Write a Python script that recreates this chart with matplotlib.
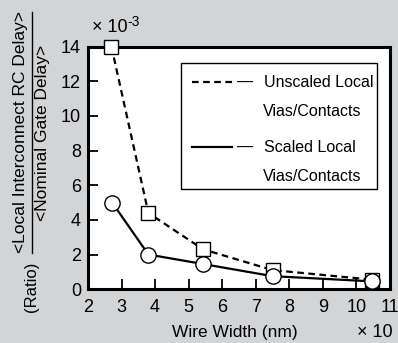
#! /usr/bin/env python3
"""Local interconnect RC delay ratio vs wire width."""
import matplotlib
matplotlib.use("Agg")
import matplotlib.pyplot as plt
from matplotlib.lines import Line2D
from matplotlib.patches import Rectangle

width_unscaled = [2.7, 3.8, 5.43, 7.5, 10.45]
ratio_unscaled = [14.0, 4.4, 2.3, 1.1, 0.55]
width_scaled = [2.72, 3.8, 5.43, 7.5, 10.45]
ratio_scaled = [5.0, 2.0, 1.45, 0.75, 0.45]
x_ticks = [2, 3, 4, 5, 6, 7, 8, 9, 10, 11]
y_ticks = [0, 2, 4, 6, 8, 10, 12, 14]
legend_lines = [("Unscaled Local", "Vias/Contacts"), ("Scaled Local", "Vias/Contacts")]

plt.rcParams["font.family"] = ["Liberation Sans", "DejaVu Sans"]
plt.rcParams["font.size"] = 13

bg = "#d3d4d6"
fig = plt.figure(figsize=(3.98, 3.43), dpi=100, facecolor=bg)
ax = fig.add_axes([0.221, 0.157, 0.759, 0.707])
ax.set_facecolor("white")

dash = (0, (3, 2))
ax.plot(width_unscaled, ratio_unscaled, ls=dash, lw=1.6, color="black",
        marker="s", ms=10.5, mfc="white", mec="black", mew=1.0,
        clip_on=False, zorder=4)
ax.plot(width_scaled, ratio_scaled, ls="-", lw=1.6, color="black",
        marker="o", ms=11, mfc="white", mec="black", mew=1.0,
        clip_on=False, zorder=5)

ax.set_xlim(2, 11)
ax.set_ylim(0, 14)
ax.set_xticks(x_ticks)
ax.set_yticks(y_ticks)
ax.tick_params(direction="in", length=7, width=1.3, labelsize=13)
ax.tick_params(axis="x", pad=7)
ax.tick_params(axis="y", pad=5)
for s in ax.spines.values():
    s.set_linewidth(2.2)
    s.set_zorder(3)

# legend box drawn by hand so the sample sits on the first text line
ax.add_patch(Rectangle((0.308, 0.412), 0.649, 0.52, transform=ax.transAxes,
                       fc="white", ec="black", lw=1.0, zorder=6))
rows_y = [(0.854, 0.734), (0.586, 0.466)]
styles = [dash, "-"]
for (top, bottom), (l1, l2), st in zip(rows_y, legend_lines, styles):
    ax.add_line(Line2D([0.344, 0.477], [top, top], transform=ax.transAxes,
                       ls=st, lw=1.6, color="black", zorder=7))
    ax.text(0.493, top, "\u2014", transform=ax.transAxes, fontsize=11.5,
            ha="left", va="center", zorder=7)
    ax.text(0.584, top, l1, transform=ax.transAxes, fontsize=11.5,
            ha="left", va="center", zorder=7)
    ax.text(0.578, bottom, l2, transform=ax.transAxes, fontsize=11.5,
            ha="left", va="center", zorder=7)

fig.text(0.231, 0.907, "\u00d7 10", fontsize=13, ha="left", va="baseline")
fig.text(0.319, 0.925, "-3", fontsize=10, ha="left", va="baseline")
fig.text(0.59, 0.018, "Wire Width (nm)", fontsize=12.5, ha="center", va="baseline")
fig.text(0.987, 0.018, "\u00d7 10", fontsize=13, ha="right", va="baseline")

fig.text(0.052, 0.615, "<Local Interconnect RC Delay>", fontsize=12.5, rotation=90,
         ha="center", va="center")
fig.text(0.108, 0.613, "<Nominal Gate Delay>", fontsize=12.5, rotation=90,
         ha="center", va="center")
fig.add_artist(Line2D([0.081, 0.081], [0.262, 0.965], lw=1.0, color="black"))
fig.text(0.078, 0.163, "(Ratio)", fontsize=12, rotation=90,
         ha="center", va="center")

fig.savefig("out.png", dpi=100, facecolor=bg)
